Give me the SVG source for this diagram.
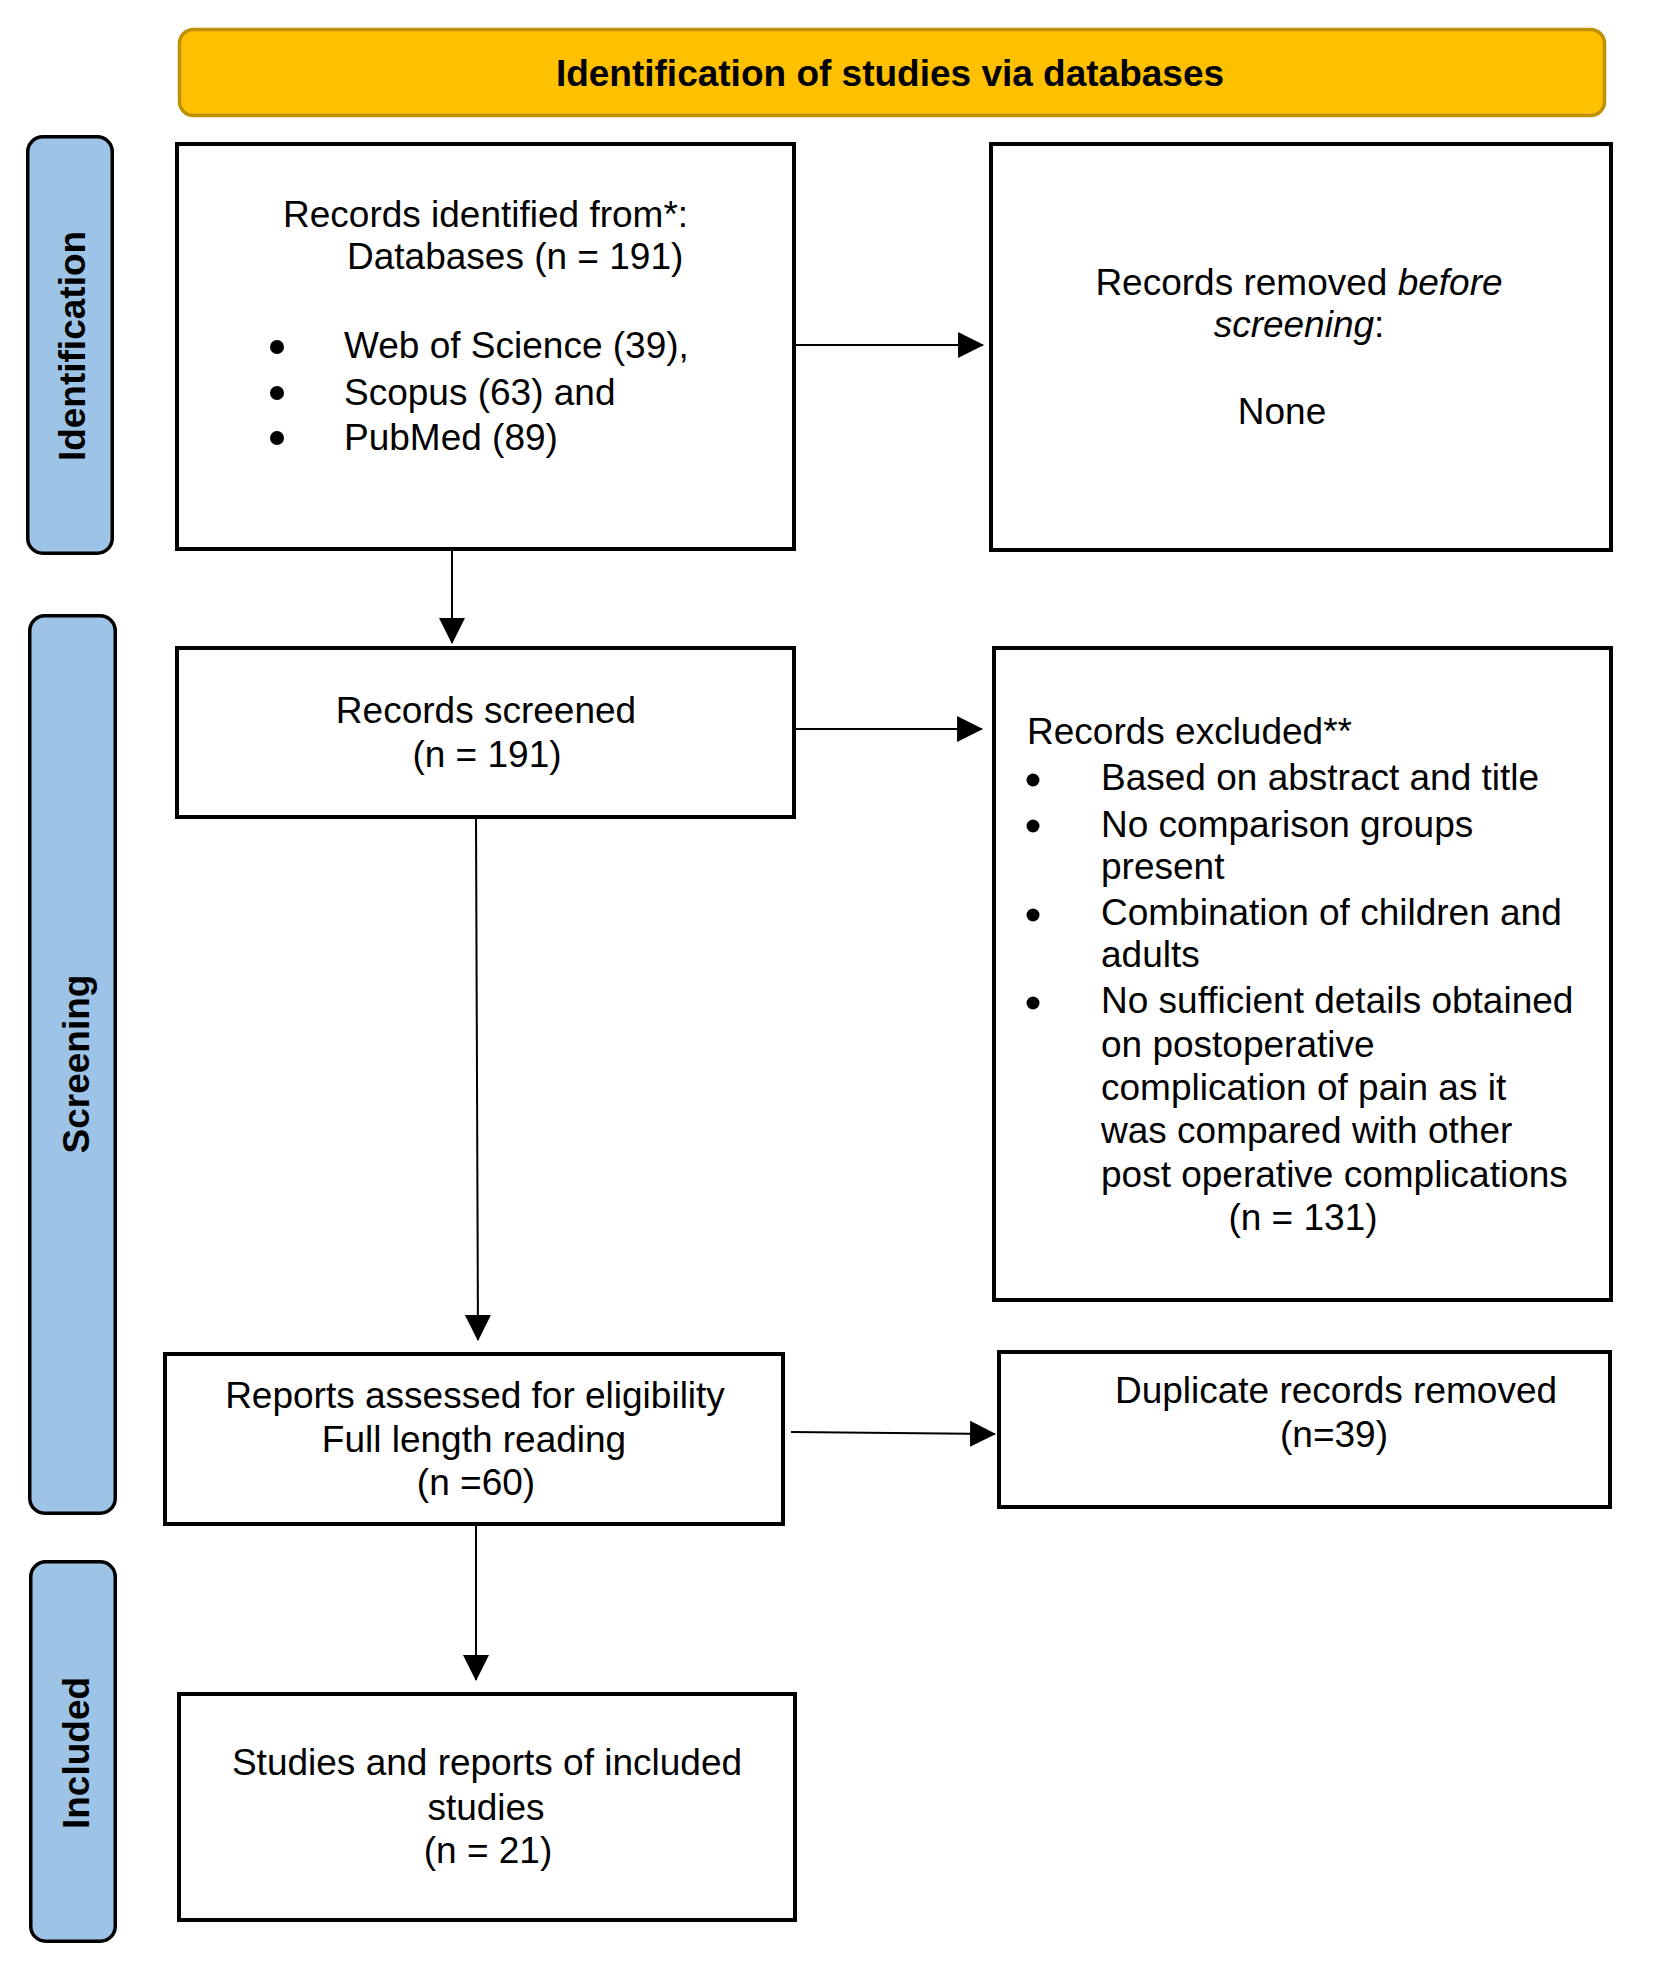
<svg xmlns="http://www.w3.org/2000/svg" width="1657" height="1970" viewBox="0 0 1657 1970">
<style>
.bg{fill:#ffffff}
.box{fill:#ffffff;stroke:#000000;stroke-width:4}
.side{fill:#9DC3E6;stroke:#000000;stroke-width:3.5}
.head{fill:#FFC000;stroke:#BF9000;stroke-width:3.5}
text{font-family:"Liberation Sans",Arial,sans-serif;font-size:37px;fill:#000000}
.b{font-weight:bold}
.c{text-anchor:middle}
.conn{stroke:#000000;stroke-width:2;fill:none;marker-end:url(#arr)}
.dot{fill:#000000}
</style>
<defs>
<marker id="arr" markerUnits="userSpaceOnUse" markerWidth="26" markerHeight="26" viewBox="0 0 25 25" refX="24" refY="12.5" orient="auto">
<path d="M0,0 L25,12.5 L0,25 z" fill="#000000"/>
</marker>
</defs>
<rect class="bg" x="0" y="0" width="1657" height="1970"/>

<g id="header">
<rect class="head" x="179.5" y="29.5" width="1425" height="86" rx="14"/>
<text class="b c" x="890" y="86">Identification of studies via databases</text>
</g>

<g id="phase-identification">
<rect class="side" x="27.75" y="136.75" width="84.5" height="416.5" rx="15"/>
<text class="b c" transform="translate(85,346) rotate(-90)">Identification</text>
</g>
<g id="phase-screening">
<rect class="side" x="29.75" y="615.75" width="85.5" height="897.5" rx="15"/>
<text class="b c" transform="translate(89,1064) rotate(-90)">Screening</text>
</g>
<g id="phase-included">
<rect class="side" x="30.75" y="1561.75" width="84.5" height="379.5" rx="15"/>
<text class="b c" transform="translate(89,1753) rotate(-90)">Included</text>
</g>

<g id="records-identified">
<rect class="box" x="177" y="144" width="617" height="405"/>
<text x="283" y="227">Records identified from*:</text>
<text x="347" y="269">Databases (n = 191)</text>
<circle class="dot" cx="277" cy="347" r="7"/>
<circle class="dot" cx="277" cy="393" r="7"/>
<circle class="dot" cx="277" cy="438" r="7"/>
<text x="344" y="358">Web of Science (39),</text>
<text x="344" y="405">Scopus (63) and</text>
<text x="344" y="450">PubMed (89)</text>
</g>

<g id="records-removed">
<rect class="box" x="991" y="144" width="620" height="406"/>
<text class="c" x="1299" y="295">Records removed <tspan font-style="italic">before</tspan></text>
<text class="c" x="1299" y="337"><tspan font-style="italic">screening</tspan>:</text>
<text class="c" x="1282" y="424">None</text>
</g>

<g id="records-screened">
<rect class="box" x="177" y="648" width="617" height="169"/>
<text class="c" x="486" y="723">Records screened</text>
<text class="c" x="487" y="767">(n = 191)</text>
</g>

<g id="records-excluded">
<rect class="box" x="994" y="648" width="617" height="652"/>
<text x="1027" y="744">Records excluded**</text>
<circle class="dot" cx="1033" cy="780" r="6.5"/>
<circle class="dot" cx="1033" cy="826" r="6.5"/>
<circle class="dot" cx="1033" cy="915" r="6.5"/>
<circle class="dot" cx="1033" cy="1003" r="6.5"/>
<text x="1101" y="790">Based on abstract and title</text>
<text x="1101" y="837">No comparison groups</text>
<text x="1101" y="879">present</text>
<text x="1101" y="925">Combination of children and</text>
<text x="1101" y="967">adults</text>
<text x="1101" y="1013">No sufficient details obtained</text>
<text x="1101" y="1057">on postoperative</text>
<text x="1101" y="1100">complication of pain as it</text>
<text x="1101" y="1143">was compared with other</text>
<text x="1101" y="1187">post operative complications</text>
<text class="c" x="1303" y="1230">(n = 131)</text>
</g>

<g id="reports-assessed">
<rect class="box" x="165" y="1354" width="618" height="170"/>
<text class="c" x="475" y="1408">Reports assessed for eligibility</text>
<text class="c" x="474" y="1452">Full length reading</text>
<text class="c" x="476" y="1495">(n =60)</text>
</g>

<g id="duplicates-removed">
<rect class="box" x="999" y="1352" width="611" height="155"/>
<text class="c" x="1336" y="1403">Duplicate records removed</text>
<text class="c" x="1334" y="1447">(n=39)</text>
</g>

<g id="studies-included">
<rect class="box" x="179" y="1694" width="616" height="226"/>
<text class="c" x="487" y="1775">Studies and reports of included</text>
<text class="c" x="486" y="1820">studies</text>
<text class="c" x="488" y="1863">(n = 21)</text>
</g>

<g id="connectors">
<line class="conn" x1="452" y1="551" x2="452" y2="643"/>
<line class="conn" x1="796" y1="345" x2="983" y2="345"/>
<line class="conn" x1="796" y1="729" x2="982" y2="729"/>
<line class="conn" x1="476" y1="819" x2="478" y2="1340"/>
<line class="conn" x1="791" y1="1432" x2="995" y2="1434"/>
<line class="conn" x1="476" y1="1526" x2="476" y2="1680"/>
</g>
</svg>
